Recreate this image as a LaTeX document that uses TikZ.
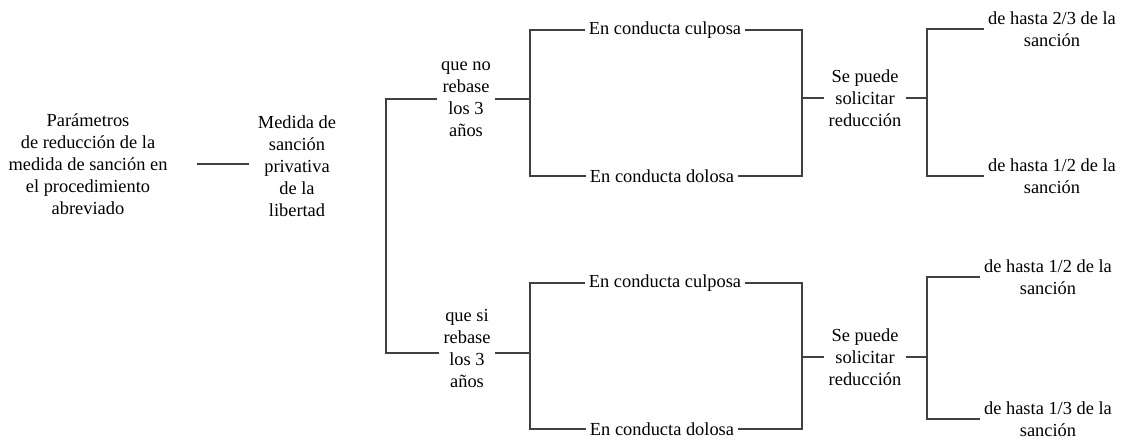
\documentclass[tikz,border=0pt]{standalone}
\usepackage{fontspec}
\setmainfont{Liberation Serif}
\begin{document}
\begin{tikzpicture}[x=0.75pt,y=-0.75pt,
  txt/.style={inner xsep=3pt,inner ysep=1pt,align=center,font=\fontsize{13.8}{16.5}\selectfont},
  conn/.style={draw=black!75,line width=0.8pt}]
\useasboundingbox (0,0) rectangle (1125,440);
% nodes
\node[txt] (par) at (88,164) {Parámetros\\de reducción de la\\medida de sanción en\\el procedimiento\\abreviado};
\node[txt] (med) at (297,166) {Medida de\\sanción\\privativa\\de la\\libertad};
\node[txt] (no) at (466,99) {que no\\rebase\\los 3\\años};
\node[txt] (si) at (467,348) {que si\\rebase\\los 3\\años};
\node[txt] (c1) at (665,30) {En conducta culposa};
\node[txt] (d1) at (662,176) {En conducta dolosa};
\node[txt] (c2) at (665,283) {En conducta culposa};
\node[txt] (d2) at (662,429) {En conducta dolosa};
\node[txt] (s1) at (865,98) {Se puede\\solicitar\\reducción};
\node[txt] (s2) at (865,357) {Se puede\\solicitar\\reducción};
\node[txt] (r1) at (1052,29) {de hasta 2/3 de la\\sanción};
\node[txt] (r2) at (1052,176) {de hasta 1/2 de la\\sanción};
\node[txt] (r3) at (1048,277) {de hasta 1/2 de la\\sanción};
\node[txt] (r4) at (1048,419) {de hasta 1/3 de la\\sanción};
% fork coordinates
\coordinate (fA) at (386,226);
\coordinate (f1) at (530,99);
\coordinate (f2) at (802,98);
\coordinate (f3) at (927,98);
\coordinate (f4) at (530,353);
\coordinate (f5) at (802,357);
\coordinate (f6) at (927,357);
% connectors
\draw[conn] ([xshift=18.75pt]par.east) -- ([xshift=-3.75pt]med.west |- par.east);
\draw[conn] (no.west) -| (fA) |- ([yshift=-3.75pt]si.west);
\draw[conn] (no.east) -- (f1);
\draw[conn] (c1.west) -| (f1) |- (d1.west);
\draw[conn] ([yshift=-3.75pt]si.east) -- (f4);
\draw[conn] (c2.west) -| (f4) |- (d2.west);
\draw[conn] (c1.east) -| (f2) |- (d1.east);
\draw[conn] (f2) -- (s1.west);
\draw[conn] (c2.east) -| (f5) |- (d2.east);
\draw[conn] (f5) -- (s2.west);
\draw[conn] (s1.east) -- (f3);
\draw[conn] (r1.west) -| (f3) |- (r2.west);
\draw[conn] (s2.east) -- (f6);
\draw[conn] (r3.west) -| (f6) |- (r4.west);
\end{tikzpicture}
\end{document}
